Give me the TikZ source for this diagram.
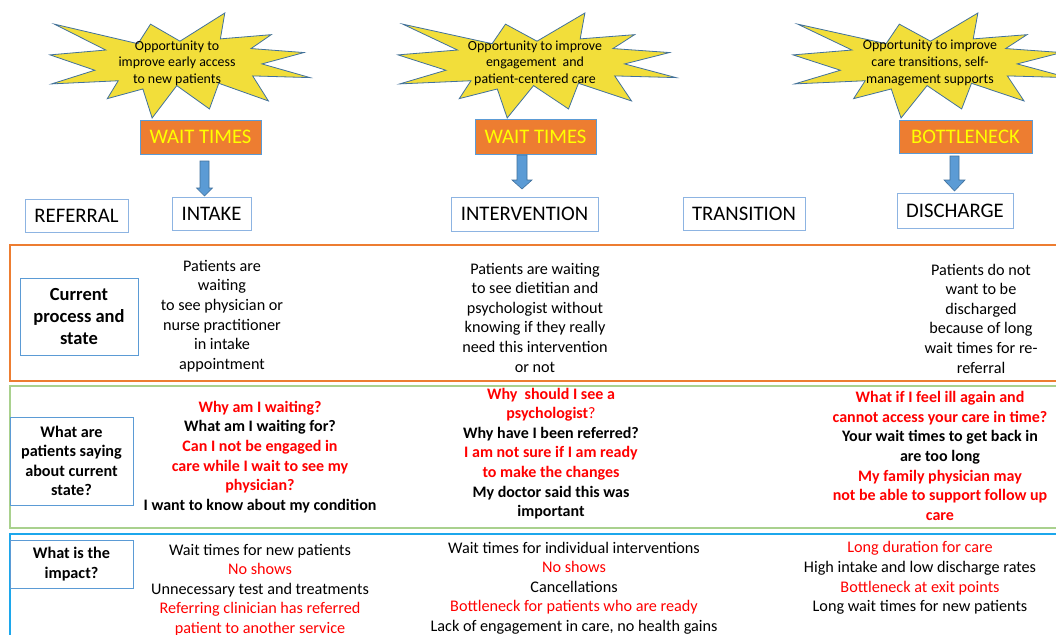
\documentclass[tikz,border=0pt]{standalone}
\usepackage{fontspec}
\setmainfont{Carlito}
\definecolor{starfill}{HTML}{F2DE3A}
\definecolor{starline}{HTML}{41719C}
\definecolor{orangefill}{HTML}{ED7D31}
\definecolor{boxline}{HTML}{5B9BD5}
\definecolor{stageline}{HTML}{8DB4E2}
\definecolor{rowgreen}{HTML}{A9D18E}
\definecolor{rowblue}{HTML}{1CA7EC}
\definecolor{txtred}{HTML}{FF0000}
\definecolor{wtyellow}{HTML}{FFFF00}
\definecolor{arrowfill}{HTML}{5B9BD5}
\newcommand{\burst}[4]{%
  \begin{scope}[shift={(#1,#2)}, xscale=#3/216, yscale=#4/216]
    \draw[burststyle] (108,58) -- (145.22,0) -- (141.55,53.25) -- (183.80,44.57) -- (167.02,73.15) -- (210.97,81.37) -- (176.07,104.75) -- (216,132.90) -- (168.37,129.42) -- (181.45,180.95) -- (140.20,144.57) -- (132.47,197.37) -- (105.32,149.35) -- (84.85,216) -- (77.15,156.27) -- (47.62,176.17) -- (56.67,139.37) -- (1.35,145.87) -- (37.22,117.75) -- (0,86.15) -- (46.27,76.17) -- (3.70,22.95) -- (73.12,63.20) -- (83.52,22.95) -- cycle;
  \end{scope}}
\newcommand{\barrow}[6]{%
  \draw[blockarrow] ({#1-#5},#2) -- ({#1+#5},#2) -- ({#1+#5},#3) -- ({#1+#6},#3) -- (#1,#4) -- ({#1-#6},#3) -- ({#1-#5},#3) -- cycle;}
\begin{document}
\begin{tikzpicture}[x=1pt,y=-1pt,
  burststyle/.style={fill=starfill,draw=starline,line width=0.8pt,line join=miter},
  bursttext/.style={align=center,font=\fontsize{13.9}{16.6}\selectfont},
  issue/.style={fill=orangefill,draw=boxline,line width=0.6pt,inner sep=0pt,font=\fontsize{20.7}{24}\selectfont,text=wtyellow},
  stagebox/.style={fill=white,draw=stageline,line width=0.8pt,inner sep=0pt,font=\fontsize{20.7}{24}\selectfont},
  labelbox/.style={fill=white,draw=boxline,line width=0.8pt,inner sep=0pt,align=center,font=\bfseries\fontsize{18.5}{22.2}\selectfont},
  rowtext/.style={align=center,font=\fontsize{16.2}{19.6}\selectfont},
  rowbold/.style={align=center,font=\bfseries\fontsize{16}{19.6}\selectfont},
  blockarrow/.style={fill=arrowfill,draw=starline,line width=0.6pt}]
\useasboundingbox (0,0) rectangle (1056,634);
\fill[white] (0,0) rectangle (1056,634);

% rows
\draw[orangefill,line width=2pt] (10,245) rectangle (1062,381);
\draw[rowgreen,line width=2.5pt] (10,386) rectangle (1062,528);
\draw[rowblue,line width=2pt] (10,534) rectangle (1062,650);

% starbursts
\burst{50}{13}{260}{105}
\burst{398}{13}{278}{105}
\burst{793}{13}{275}{105}
\node[bursttext] (op1) at (177,63) {Opportunity to\\improve early access\\to new patients};
\node[bursttext] (op2) at (535,63) {Opportunity to improve\\engagement\ \ and\\patient-centered care};
\node[bursttext] (op3) at (930,63) {Opportunity to improve\\care transitions, self-\\management supports};

% issue boxes
\node[issue,minimum width=121pt,minimum height=34pt] (wt1) at (200.5,137) {WAIT TIMES};
\node[issue,minimum width=121pt,minimum height=35pt] (wt2) at (535.5,136.5) {WAIT TIMES};
\node[issue,minimum width=133pt,minimum height=33pt] (bn) at (965.5,136.5) {BOTTLENECK};

% block arrows
\barrow{204.5}{161}{188}{196}{4.5}{8}
\barrow{522}{155}{180}{189}{5}{10}
\barrow{954.5}{156}{180}{191}{4.5}{10.5}

% stage boxes
\node[stagebox,minimum width=103pt,minimum height=33pt] (ref) at (76.5,215.5) {REFERRAL};
\node[stagebox,minimum width=79pt,minimum height=33pt] (intk) at (211.5,213.5) {INTAKE};
\node[stagebox,minimum width=147pt,minimum height=34pt] (intv) at (524.5,214) {INTERVENTION};
\node[stagebox,minimum width=122pt,minimum height=33pt] (trans) at (744,213.5) {TRANSITION};
\node[stagebox,minimum width=116pt,minimum height=35pt] (dis) at (955,210.5) {DISCHARGE};

% label boxes
\node[labelbox,minimum width=118pt,minimum height=77pt] (lab1) at (79,316.5) {Current\\process and\\state};
\node[labelbox,minimum width=123pt,minimum height=88pt,font=\bfseries\fontsize{16.2}{19.5}\selectfont] (lab2) at (71.5,461) {What are\\patients saying\\about current\\state?};
\node[labelbox,minimum width=123pt,minimum height=48pt,font=\bfseries\fontsize{16.2}{19.5}\selectfont] (lab3) at (71.5,564) {What is the\\impact?};

% row 1
\node[rowtext] (r1c1) at (222,316) {Patients are\\waiting\\to see physician or\\nurse practitioner\\in intake\\appointment};
\node[rowtext] (r1c2) at (535,317.5) {Patients are waiting\\to see dietitian and\\psychologist without\\knowing if they really\\need this intervention\\or not};
\node[rowtext] (r1c3) at (981,318.5) {Patients do not\\want to be\\discharged\\because of long\\wait times for re-\\referral};

% row 2
\node[rowbold] (r2c1) at (260,457) {\textcolor{txtred}{Why am I waiting?}\\What am I waiting for?\\\textcolor{txtred}{Can I not be engaged in}\\\textcolor{txtred}{care while I wait to see my}\\\textcolor{txtred}{physician?}\\I want to know about my condition};
\node[rowbold] (r2c2) at (551,453.5) {\textcolor{txtred}{Why\ \ should I see a}\\\textcolor{txtred}{psychologist\textmd{?}}\\Why have I been referred?\\\textcolor{txtred}{I am not sure if I am ready}\\\textcolor{txtred}{to make the changes}\\My doctor said this was\\important};
\node[rowbold] (r2c3) at (940,456) {\textcolor{txtred}{What if I feel ill again and}\\\textcolor{txtred}{cannot access your care in time?}\\Your wait times to get back in\\are too long\\\textcolor{txtred}{My family physician may}\\\textcolor{txtred}{not be able to support follow up}\\\textcolor{txtred}{care}};

% row 3
\node[rowtext] (r3c1) at (260,590) {Wait times for new patients\\\textcolor{txtred}{No shows}\\Unnecessary test and treatments\\\textcolor{txtred}{Referring clinician has referred}\\\textcolor{txtred}{patient to another service}};
\node[rowtext] (r3c2) at (574,588) {Wait times for individual interventions\\\textcolor{txtred}{No shows}\\Cancellations\\\textcolor{txtred}{Bottleneck for patients who are ready}\\Lack of engagement in care, no health gains};
\node[rowtext] (r3c3) at (920,578) {\textcolor{txtred}{Long duration for care}\\High intake and low discharge rates\\\textcolor{txtred}{Bottleneck at exit points}\\Long wait times for new patients};
\end{tikzpicture}
\end{document}
